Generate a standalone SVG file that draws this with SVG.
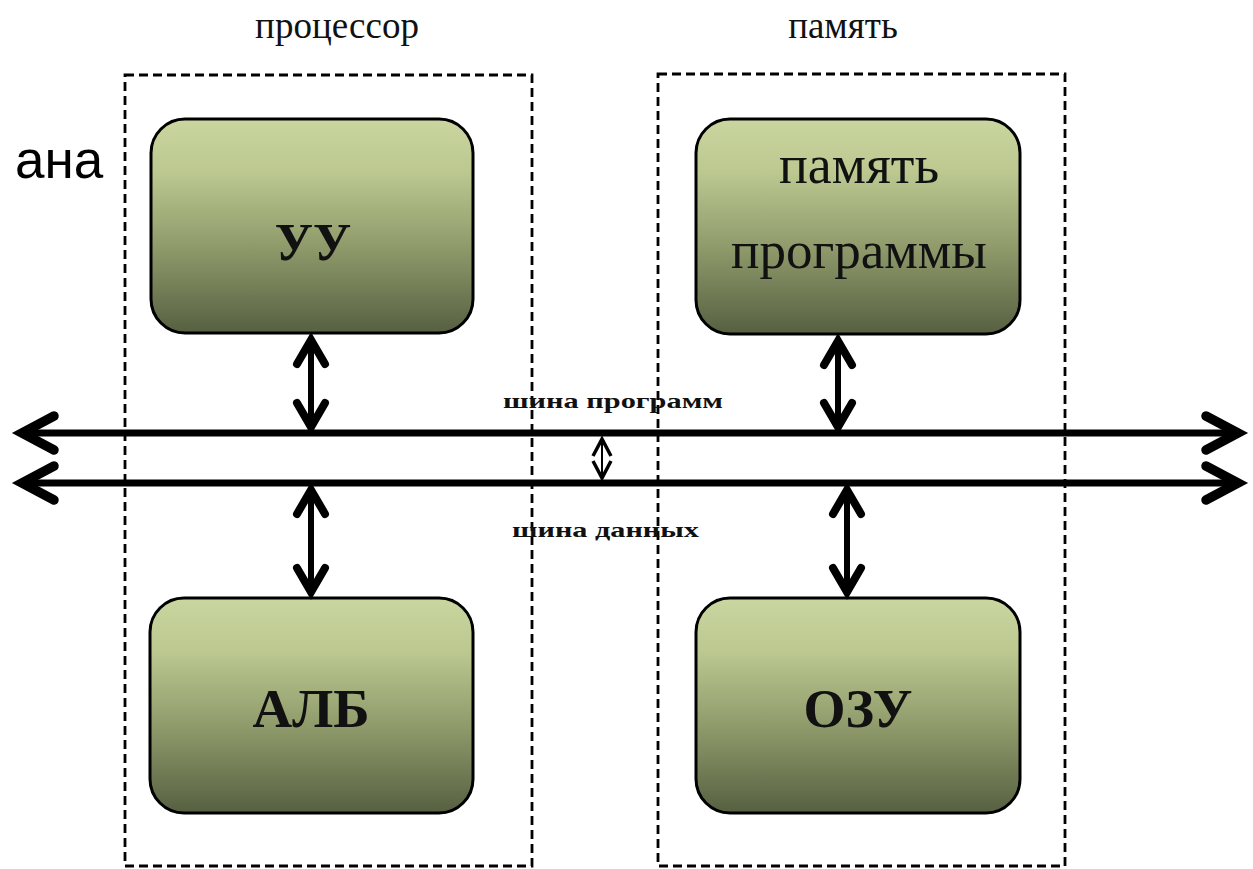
<svg xmlns="http://www.w3.org/2000/svg" width="1253" height="869" viewBox="0 0 1253 869">
<defs>
<linearGradient id="g" x1="0" y1="0" x2="0" y2="1">
<stop offset="0" stop-color="#cad69f"/>
<stop offset="0.25" stop-color="#bcc890"/>
<stop offset="0.6" stop-color="#8e9a6a"/>
<stop offset="1" stop-color="#566042"/>
</linearGradient>
</defs>
<style>
.frame{fill:none;stroke:#000;stroke-width:2.8;stroke-dasharray:9 5}
.node{fill:url(#g);stroke:#000;stroke-width:3}
.bus{fill:none;stroke:#000;stroke-width:7;stroke-linecap:butt}
.head{fill:none;stroke:#000;stroke-width:9.5;stroke-linecap:round;stroke-linejoin:miter}
.v{fill:none;stroke:#000;stroke-width:6}
.vh{fill:none;stroke:#000;stroke-width:8;stroke-linecap:round;stroke-linejoin:miter}
.cap{font-family:"Liberation Serif","Times New Roman",serif;fill:#111}
.lbl{font-family:"Liberation Serif","Times New Roman",serif;fill:#111;text-anchor:middle}
.b{font-weight:bold}
</style>
<rect width="1253" height="869" fill="#fff"/>
<text x="15" y="178" font-family="Liberation Sans, Arial, sans-serif" font-size="53" fill="#000">ана</text>
<g id="processor">
<rect class="frame" x="125" y="75" width="407" height="791"/>
<text class="lbl" x="337" y="38" font-size="37">процессор</text>
</g>
<g id="memory">
<rect class="frame" x="658" y="74" width="407" height="792"/>
<text class="lbl" x="843" y="38" font-size="37">память</text>
</g>
<g id="uu">
<rect class="node" x="151" y="119" width="322" height="214" rx="34"/>
<text class="lbl b" x="313" y="260" font-size="52">УУ</text>
</g>
<g id="progmem">
<rect class="node" x="696" y="119" width="324" height="215" rx="34"/>
<text class="lbl" x="859" y="183" font-size="54">память</text>
<text class="lbl" x="859" y="268" font-size="53">программы</text>
</g>
<g id="alb">
<rect class="node" x="150" y="598" width="323" height="215" rx="34"/>
<text class="lbl b" x="311" y="727" font-size="55">АЛБ</text>
</g>
<g id="ozu">
<rect class="node" x="696" y="598" width="324" height="215" rx="34"/>
<text class="lbl b" x="858" y="727" font-size="54">ОЗУ</text>
</g>
<g id="connectors">
<line class="bus" x1="22" y1="433" x2="1236" y2="433"/>
<line class="bus" x1="22" y1="483" x2="1236" y2="483"/>
<polyline class="head" points="54,416 22,433 54,450"/>
<polyline class="head" points="54,466 22,483 54,500"/>
<polyline class="head" points="1206,416 1238,433 1206,450"/>
<polyline class="head" points="1206,466 1238,483 1206,500"/>
<line class="v" x1="311" y1="340" x2="311" y2="427"/>
<polyline class="vh" points="297,364 311,340 325,364"/>
<polyline class="vh" points="297,403 311,427 325,403"/>
<line class="v" x1="311" y1="490" x2="311" y2="592"/>
<polyline class="vh" points="297,514 311,490 325,514"/>
<polyline class="vh" points="297,568 311,592 325,568"/>
<line class="v" x1="838" y1="341" x2="838" y2="427"/>
<polyline class="vh" points="824,365 838,341 852,365"/>
<polyline class="vh" points="824,403 838,427 852,403"/>
<line class="v" x1="847" y1="490" x2="847" y2="592"/>
<polyline class="vh" points="833,514 847,490 861,514"/>
<polyline class="vh" points="833,568 847,592 861,568"/>
<line x1="602" y1="439" x2="602" y2="478" stroke="#000" stroke-width="2"/>
<polyline points="593,456 602,439 611,456" fill="none" stroke="#000" stroke-width="3.5"/>
<polyline points="593,461 602,478 611,461" fill="none" stroke="#000" stroke-width="3.5"/>
</g>
<g id="bus-labels">
<text class="cap b" x="503" y="408" font-size="22" textLength="220" lengthAdjust="spacingAndGlyphs">шина программ</text>
<text class="cap b" x="512" y="537" font-size="22" textLength="187" lengthAdjust="spacingAndGlyphs">шина данных</text>
</g>
</svg>
